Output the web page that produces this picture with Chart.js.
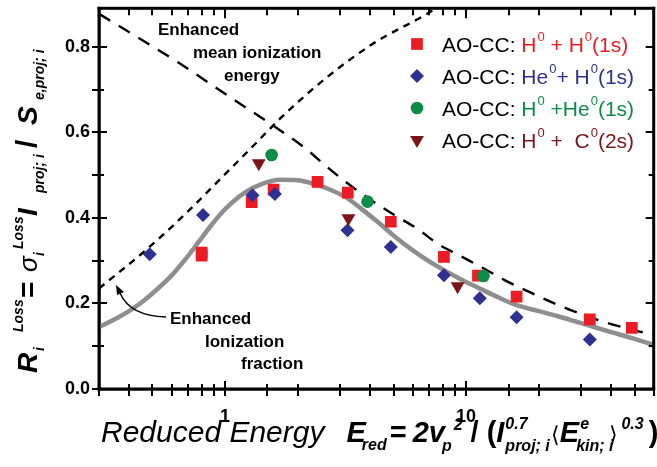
<!DOCTYPE html>
<html>
<head>
<meta charset="utf-8">
<script src="https://cdn.jsdelivr.net/npm/chart.js@4.4.1/dist/chart.umd.min.js"></script>
<style>
  html, body { margin: 0; padding: 0; background: #fff; overflow: hidden; }
  canvas { display: block; }
</style>
</head>
<body>
<canvas id="chart" width="662" height="467"></canvas>
<script>
// AO-CC results, [reduced energy, R_loss]
var hOnH = [[0.8, 0.312], [0.8, 0.319], [1.29, 0.437], [1.59, 0.466], [2.42, 0.484], [3.23, 0.459],
            [4.87, 0.391], [8.09, 0.309], [11.2, 0.265], [16.2, 0.216], [32.6, 0.163], [48.7, 0.143]];
var heOnH = [[0.487, 0.315], [0.81, 0.407], [1.30, 0.453], [1.61, 0.456], [3.22, 0.371], [4.87, 0.332],
             [8.09, 0.266], [11.4, 0.212], [16.2, 0.168], [32.6, 0.116]];
var hOnHe = [[1.56, 0.547], [3.90, 0.438], [11.8, 0.264]];
var hOnC = [[1.38, 0.528], [3.25, 0.399], [9.22, 0.240]];

// model curves
var fitCurve = [[0.3, 0.145], [0.36, 0.167], [0.44, 0.198], [0.52, 0.232], [0.606, 0.268], [0.7, 0.31],
                [0.78, 0.345], [0.88, 0.384], [0.975, 0.414], [1.1, 0.442], [1.22, 0.461], [1.4, 0.478],
                [1.7, 0.489], [2.0, 0.488], [2.29, 0.481], [2.7, 0.467], [3.15, 0.449], [3.7, 0.42],
                [4.33, 0.389], [5.1, 0.355], [5.95, 0.326], [7.0, 0.299], [8.1, 0.278], [9.4, 0.258],
                [11.4, 0.235], [13.5, 0.215], [16, 0.197], [20, 0.182], [24, 0.17], [28, 0.159],
                [33, 0.147], [40, 0.133], [50, 0.117], [60, 0.103]];
var meanIonEnergy = [[0.3, 0.877], [0.645, 0.762], [1.0, 0.69], [1.62, 0.612], [2.15, 0.563], [2.6, 0.523],
                     [3.2, 0.482], [3.95, 0.445], [5.0, 0.408], [6.3, 0.374], [7.65, 0.339], [9.4, 0.312],
                     [12, 0.28], [14.5, 0.254], [17.8, 0.23], [22, 0.206], [27, 0.185], [33, 0.167],
                     [41, 0.15], [50, 0.137], [60, 0.127]];
var ionFraction = [[0.3, 0.235], [0.47, 0.325], [0.71, 0.418], [0.975, 0.496], [1.256, 0.558], [1.72, 0.636],
                   [2.61, 0.726], [4.13, 0.808], [6.74, 0.874], [8.0, 0.9]];

var xRange = [0.3, 60];
var yRange = [0, 0.89];
var yTicks = [0, 0.1, 0.2, 0.3, 0.4, 0.5, 0.6, 0.7, 0.8];
var yLabels = [0, 0.2, 0.4, 0.6, 0.8];
var xLabels = [1, 10];

var FONT = '"Liberation Sans", Arial, sans-serif';
var RED = '#ec1c24', BLUE = '#2e3192', GREEN = '#0c8c47', DKRED = '#7c1517', GRAY = '#8e8e8e';

function pts(arr) { return arr.map(function (p) { return { x: p[0], y: p[1] }; }); }

// draws a run of text pieces, each one after the other
function rich(c, x, y, parts) {
    var cx = x;
    parts.forEach(function (p) {
        c.font = p.f + ' ' + FONT;
        c.fillStyle = p.c || '#000';
        var px = p.at !== undefined ? x + p.at : cx + (p.dx || 0);
        c.fillText(p.t, px, y + (p.dy || 0));
        if (!p.stay) cx = px + c.measureText(p.t).width;
    });
    return cx;
}

function num(v, dflt) { return (typeof v === 'number' && isFinite(v)) ? v : dflt; }

// box round the plot and the inner tick marks, as filled bars
function drawBox(chart) {
    var c = chart.ctx, a = chart.chartArea || {};
    var xs = chart.scales.x, ys = chart.scales.y;
    var L = num(a.left, 99), T = num(a.top, 8), R = num(a.right, 656), B = num(a.bottom, 389);
    function xpx(v) {
        var p = xs ? xs.getPixelForValue(v) : NaN;
        if (!isFinite(p)) p = L + Math.log(v / xRange[0]) / Math.log(xRange[1] / xRange[0]) * (R - L);
        return Math.round(p);
    }
    function ypx(v) {
        var p = ys ? ys.getPixelForValue(v) : NaN;
        if (!isFinite(p)) p = B - (v - yRange[0]) / (yRange[1] - yRange[0]) * (B - T);
        return Math.round(p);
    }
    c.save();
    c.globalAlpha = 1;
    c.globalCompositeOperation = 'source-over';
    c.fillStyle = '#000';
    var tickVals = xs && xs.ticks ? xs.ticks.map(function (t) { return t.value; }) : [];
    tickVals.forEach(function (v) {
        if (v <= xRange[0] * 1.001 || v >= xRange[1] * 0.999) return;
        var px = xpx(v);
        var lg = Math.log(v) / Math.LN10;
        var major = Math.abs(lg - Math.round(lg)) < 1e-6;
        c.fillRect(px - 1, B - (major ? 8 : 5), 2, major ? 8 : 5);
        c.fillRect(px - 1, T, 2, major ? 10 : 7);
    });
    yTicks.forEach(function (v) {
        if (v === 0) return;
        var py = ypx(v);
        var d = yLabels.indexOf(v) >= 0 ? 8 : 5;
        c.fillRect(L, py - 1, d, 2);
        c.fillRect(R - d, py - 1, d, 2);
    });
    c.fillRect(L - 1.5, T - 1.5, R - L + 3, 3);
    c.fillRect(L - 1.5, B - 1.5, R - L + 3, 3);
    c.fillRect(L - 1.5, T - 1.5, 3, B - T + 3);
    c.fillRect(R - 1.5, T - 1.5, 3, B - T + 3);
    c.restore();
}

function drawTexts(chart) {
    var c = chart.ctx;
    c.save();
    c.textBaseline = 'alphabetic';
    c.textAlign = 'left';

    // annotations
    c.fillStyle = '#000';
    c.font = 'bold 17px ' + FONT;
    c.fillText('Enhanced', 158, 35);
    c.fillText('mean ionization', 193, 58);
    c.fillText('energy', 224, 81);
    c.fillText('Enhanced', 170, 324);
    c.fillText('Ionization', 205, 347);
    c.fillText('fraction', 241, 369);

    // arrow to the dotted line
    c.strokeStyle = '#000';
    c.lineWidth = 1.5;
    c.beginPath();
    c.moveTo(166, 317);
    c.quadraticCurveTo(130, 316, 120, 293);
    c.stroke();
    c.beginPath();
    c.moveTo(116, 285);
    c.lineTo(124, 292);
    c.lineTo(117, 295);
    c.closePath();
    c.fill();

    // legend
    var rows = [
        { ds: 3, col: RED, parts: [['H'], ['0', 1], [' + H'], ['0', 1], ['(1s)']] },
        { ds: 2, col: BLUE, parts: [['He'], ['0', 1], ['+ H'], ['0', 1], ['(1s)']] },
        { ds: 0, col: GREEN, parts: [['H'], ['0', 1], [' +He'], ['0', 1], ['(1s)']] },
        { ds: 1, col: DKRED, parts: [['H'], ['0', 1], [' +  C'], ['0', 1], ['(2s)']] }
    ];
    rows.forEach(function (r, i) {
        var cy = 44 + i * 32;
        var o = chart.data.datasets[r.ds];
        c.fillStyle = o.backgroundColor;
        Chart.helpers.drawPoint(c, {
            pointStyle: o.pointStyle, radius: o.pointRadius, rotation: o.rotation || 0, borderWidth: 0
        }, 417, cy);
        var parts = [{ t: 'AO-CC: ', f: '21px' }];
        r.parts.forEach(function (p) {
            parts.push(p[1] ? { t: p[0], f: '13px', dy: -11, c: r.col, dx: 1 } : { t: p[0], f: '21px', c: r.col });
        });
        rich(c, 442, cy + 8, parts);
    });

    // x axis title
    var BI = 'italic bold ';
    rich(c, 101, 442, [
        { t: 'Reduced Energy', f: 'italic 30px' },
        { t: 'E', f: BI + '29px', dx: 22 },
        { t: 'red', f: BI + '16px', dy: 8, dx: -4 },
        { t: '=', f: 'bold 29px', dx: 3 },
        { t: '2v', f: BI + '29px', dx: 6 },
        { t: 'p', f: BI + '16px', dy: 9, dx: -3 },
        { t: '2', f: BI + '16px', dy: -12, dx: 2 },
        { t: '/', f: 'bold 29px', dx: 8 },
        { t: '(', f: 'bold 29px', dx: 8 },
        { t: 'I', f: BI + '29px' },
        { t: '0.7', f: BI + '16px', dy: -13, dx: 1, stay: true },
        { t: 'proj; i', f: BI + '16px', dy: 9, dx: 1 },
        { t: '\u27e8', f: '22px', dx: 1 },
        { t: 'E', f: BI + '29px', dx: 0 },
        { t: 'e', f: BI + '16px', dy: -13, dx: 1, stay: true },
        { t: 'kin; i', f: BI + '16px', dy: 9, dx: -3 },
        { t: '\u27e9', f: '22px', dx: -4 },
        { t: '0.3', f: BI + '16px', dy: -13, dx: 3 },
        { t: ')', f: 'bold 29px', dx: 5 }
    ]);

    // y axis title, rotated
    c.translate(37, 373);
    c.rotate(-Math.PI / 2);
    rich(c, 0, 0, [
        { t: 'R', f: BI + '28px', at: 0 },
        { t: 'i', f: BI + '14px', dy: 7, at: 22 },
        { t: 'Loss', f: BI + '14px', dy: -14, at: 41 },
        { t: '=', f: 'bold 28px', at: 75 },
        { t: '\u03c3', f: 'italic 26px', at: 101 },
        { t: 'i', f: BI + '14px', dy: 7, at: 117 },
        { t: 'Loss', f: BI + '14px', dy: -14, at: 124 },
        { t: 'I', f: BI + '28px', at: 157 },
        { t: 'proj; i', f: BI + '14px', dy: 7, at: 180 },
        { t: '/', f: 'bold 30px', at: 225 },
        { t: 'S', f: BI + '28px', at: 248 },
        { t: 'e,proj; i', f: BI + '14px', dy: 7, at: 273 }
    ]);
    c.restore();
}

var decorPlugin = {
    id: 'decor',
    afterDraw: function (chart) {
        drawTexts(chart);
        drawBox(chart);
    }
};

var axisGrid = {
    display: true, drawOnChartArea: false, drawTicks: true,
    tickLength: 7, tickWidth: 2, tickColor: '#000', color: '#000', lineWidth: 2
};

var myChart = new Chart(document.getElementById('chart'), {
    type: 'scatter',
    data: {
        datasets: [
            { label: 'H0 + He0(1s)', data: pts(hOnHe), pointStyle: 'circle', pointRadius: 6.3,
              backgroundColor: GREEN, borderWidth: 0, order: 0 },
            { label: 'H0 + C0(2s)', data: pts(hOnC), pointStyle: 'triangle', pointRadius: 8, rotation: 180,
              backgroundColor: DKRED, borderWidth: 0, order: 1 },
            { label: 'He0 + H0(1s)', data: pts(heOnH), pointStyle: 'rectRot', pointRadius: 7,
              backgroundColor: BLUE, borderWidth: 0, order: 2 },
            { label: 'H0 + H0(1s)', data: pts(hOnH), pointStyle: 'rect', pointRadius: 8.3,
              backgroundColor: RED, borderWidth: 0, order: 3 },
            { label: 'ionization fraction', data: pts(ionFraction), showLine: true, pointRadius: 0,
              borderColor: '#000', borderWidth: 2.4, borderDash: [7, 6], cubicInterpolationMode: 'monotone', order: 4 },
            { label: 'mean ionization energy', data: pts(meanIonEnergy), showLine: true, pointRadius: 0,
              borderColor: '#000', borderWidth: 2.4, borderDash: [13, 10], cubicInterpolationMode: 'monotone', order: 5 },
            { label: 'fit', data: pts(fitCurve), showLine: true, pointRadius: 0,
              borderColor: GRAY, borderWidth: 4.5, cubicInterpolationMode: 'monotone', order: 6 }
        ]
    },
    options: {
        responsive: false,
        animation: false,
        events: [],
        layout: { padding: { top: 8, right: 1, left: 0, bottom: 0 } },
        plugins: { legend: { display: false }, tooltip: { enabled: false } },
        scales: {
            x: {
                type: 'logarithmic',
                min: xRange[0],
                max: xRange[1],
                grid: axisGrid,
                border: { display: true, color: '#000', width: 2.6 },
                ticks: {
                    autoSkip: false,
                    maxRotation: 0,
                    padding: 10,
                    color: '#000',
                    font: { family: FONT, size: 18, weight: 'bold' },
                    callback: function (v) {
                        for (var i = 0; i < xLabels.length; i++) {
                            if (Math.abs(v - xLabels[i]) < 1e-6) return String(xLabels[i]);
                        }
                        return '';
                    }
                },
                afterFit: function (s) { s.height = 78; s.paddingLeft = 0; s.paddingRight = 0; }
            },
            y: {
                min: yRange[0],
                max: yRange[1],
                grid: axisGrid,
                border: { display: true, color: '#000', width: 2.6 },
                afterBuildTicks: function (s) { s.ticks = yTicks.map(function (v) { return { value: v }; }); },
                ticks: {
                    padding: 2,
                    color: '#000',
                    font: { family: FONT, size: 18, weight: 'bold' },
                    callback: function (v) {
                        return yLabels.indexOf(+(+v).toFixed(1)) >= 0 ? (+v).toFixed(1) : '';
                    }
                },
                afterFit: function (s) { s.width = 99; s.paddingTop = 0; s.paddingBottom = 0; }
            }
        }
    },
    plugins: [decorPlugin]
});
</script>
</body>
</html>
